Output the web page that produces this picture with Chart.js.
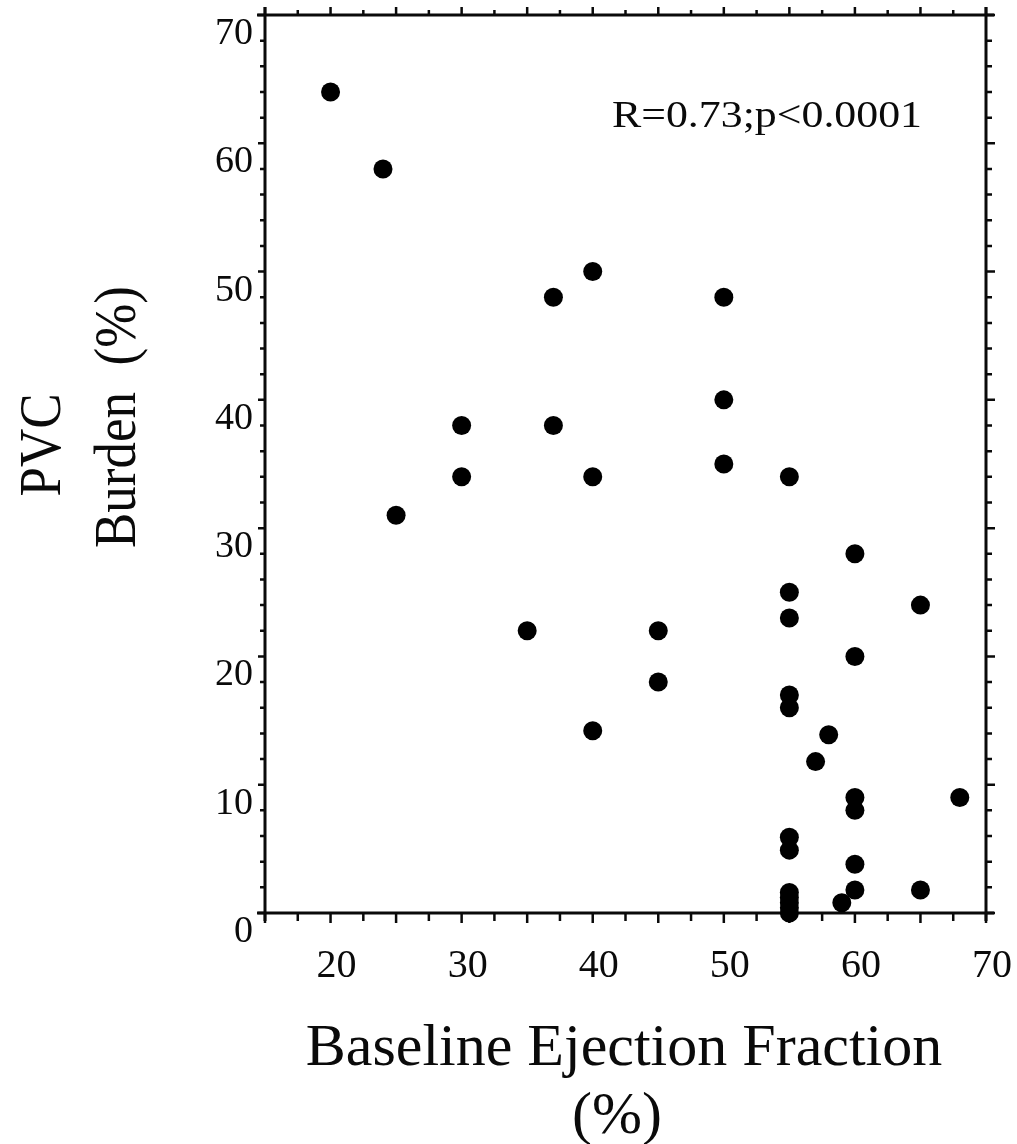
<!DOCTYPE html>
<html>
<head>
<meta charset="utf-8">
<script src="https://cdn.jsdelivr.net/npm/chart.js@4/dist/chart.umd.min.js"></script>
<style>
  html, body { margin: 0; padding: 0; background: #fff; }
  #wrap { width: 1017px; height: 1144px; position: relative; }
</style>
</head>
<body>
<div id="wrap"><canvas id="c" width="1017" height="1144"></canvas></div>
<script>
// ---- data ----
const ejectionFraction = [20, 24, 25, 30, 30, 35, 37, 37, 40, 40, 40, 45, 45, 50, 50, 50,
  55, 55, 55, 55, 55, 55, 55, 55, 55, 55, 55, 55, 57, 58, 59, 60, 60, 60, 60, 60, 60, 65, 65, 68];
const pvcBurden = [64, 58, 31, 38, 34, 22, 48, 38, 50, 34, 14.2, 22, 18, 48, 40, 35,
  34, 25, 23, 17, 16, 5.9, 4.9, 1.6, 1.2, 0.8, 0.4, 0, 11.8, 13.9, 0.8, 28, 20, 9, 8, 3.8, 1.8, 24, 1.8, 9];
const xTickValues = [20, 30, 40, 50, 60, 70];
const yTickValues = [0, 10, 20, 30, 40, 50, 60, 70];
const xTitleLines = ['Baseline Ejection Fraction', '(%)'];
const yTitleLines = ['PVC', 'Burden  (%)'];
const annotationText = 'R=0.73;p<0.0001';

const points = ejectionFraction.map((x, i) => ({ x: x, y: pvcBurden[i] }));
const SERIF = "'Liberation Serif', 'DejaVu Serif', serif";
const INK = '#0a0a0a';

function noPad(s) { s.paddingLeft = 0; s.paddingRight = 0; s.paddingTop = 0; s.paddingBottom = 0; }

const framePlugin = {
  id: 'frame',
  beforeDatasetsDraw(chart) {
    const ctx = chart.ctx;
    const xs = chart.scales.x, ys = chart.scales.y;
    const L = xs.left, R = xs.right, T = ys.top, B = ys.bottom;
    ctx.save();
    ctx.strokeStyle = INK;
    ctx.lineCap = 'butt';
    ctx.lineWidth = 3;
    const o = 8;
    ctx.beginPath();
    ctx.moveTo(L - o, T); ctx.lineTo(R + o, T);
    ctx.moveTo(L - o, B); ctx.lineTo(R + o, B);
    ctx.moveTo(L, T - o); ctx.lineTo(L, B + o);
    ctx.moveTo(R, T - o); ctx.lineTo(R, B + o);
    ctx.stroke();
    ctx.lineWidth = 2.5;
    ctx.beginPath();
    for (let v = xs.min; v <= xs.max + 1e-9; v += 2.5) {
      const px = xs.getPixelForValue(v);
      const major = Math.abs(v / 5 - Math.round(v / 5)) < 1e-6;
      ctx.moveTo(px, B); ctx.lineTo(px, B + (major ? 10 : 8));
      ctx.moveTo(px, T); ctx.lineTo(px, T - (major ? 8 : 5));
    }
    for (let v = ys.min; v <= ys.max + 1e-9; v += 2) {
      const py = ys.getPixelForValue(v);
      const major = v % 10 === 0;
      ctx.moveTo(R, py); ctx.lineTo(R + (major ? 9 : 6), py);
      ctx.moveTo(L, py); ctx.lineTo(L - (major ? 7 : 5), py);
    }
    ctx.stroke();
    ctx.restore();
  },
  afterDraw(chart) {
    const ctx = chart.ctx;
    ctx.save();
    ctx.fillStyle = INK;
    ctx.font = '37px ' + SERIF;
    ctx.textBaseline = 'alphabetic';
    ctx.textAlign = 'center';
    {
      const w = ctx.measureText(annotationText).width;
      const sx = 310 / w;
      ctx.save();
      ctx.translate(767, 127);
      ctx.scale(sx, 1);
      ctx.fillText(annotationText, 0, 0);
      ctx.restore();
    }
    ctx.font = '60px ' + SERIF;
    ctx.fillText(xTitleLines[0], 624, 1065);
    ctx.fillText(xTitleLines[1], 617, 1133);
    ctx.font = '53px ' + SERIF;
    const ycenters = [445, 417];
    const ybase = [60, 135];
    for (let i = 0; i < yTitleLines.length; i++) {
      ctx.save();
      ctx.translate(ybase[i], ycenters[i]);
      ctx.rotate(-Math.PI / 2);
      ctx.scale(1, 1.12);
      ctx.fillText(yTitleLines[i], 0, 0);
      ctx.restore();
    }
    ctx.restore();
  }
};

new Chart(document.getElementById('c'), {
  type: 'scatter',
  data: {
    datasets: [{
      data: points,
      backgroundColor: '#000',
      borderColor: '#000',
      pointRadius: 9.5,
      pointHoverRadius: 9.5,
      borderWidth: 0,
      clip: false
    }]
  },
  options: {
    responsive: false,
    animation: false,
    events: [],
    layout: { padding: { top: 15, right: 31, left: 0, bottom: 0 } },
    plugins: { legend: { display: false }, tooltip: { enabled: false } },
    scales: {
      x: {
        type: 'linear', min: 15, max: 70,
        afterBuildTicks: s => { s.ticks = xTickValues.map(v => ({ value: v })); },
        afterFit: s => { s.height = 231; noPad(s); },
        grid: { display: false, drawTicks: false },
        border: { display: false },
        ticks: {
          font: { family: SERIF, size: 40 }, color: INK,
          padding: 29, labelOffset: 6, maxRotation: 0, autoSkip: false
        }
      },
      y: {
        type: 'linear', min: 0, max: 70,
        afterBuildTicks: s => { s.ticks = yTickValues.map(v => ({ value: v })); },
        afterFit: s => { s.width = 265; noPad(s); },
        grid: { display: false, drawTicks: false },
        border: { display: false },
        ticks: {
          font: { family: SERIF, size: 38 }, color: INK,
          padding: 12, labelOffset: 19, autoSkip: false
        }
      }
    }
  },
  plugins: [framePlugin]
});
</script>
</body>
</html>
